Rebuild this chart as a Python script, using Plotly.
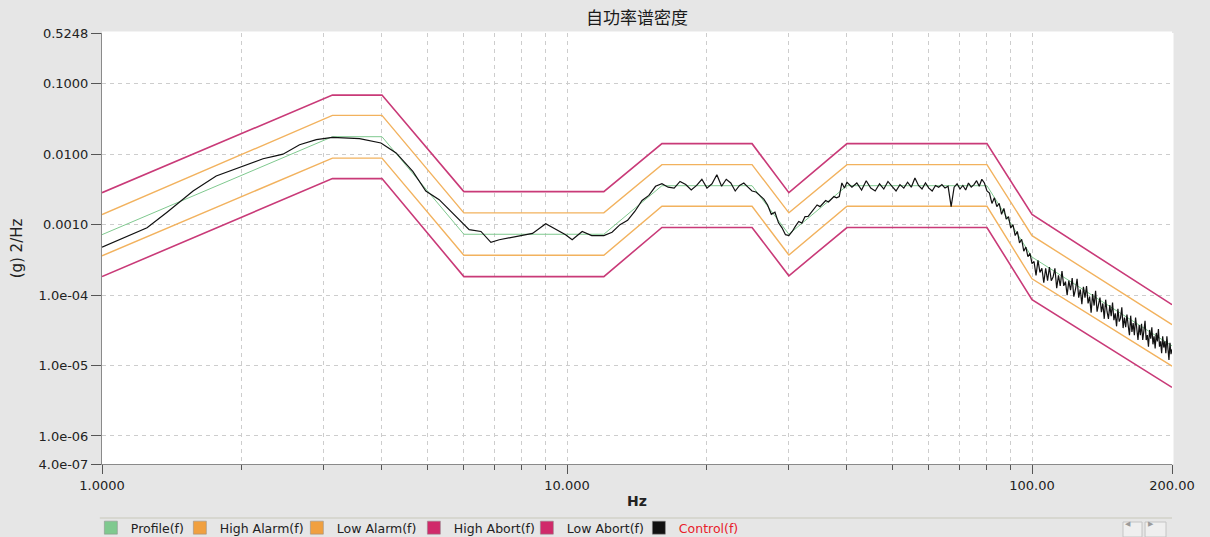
import plotly.graph_objects as go

# ---------------- data ----------------
limit_freq = [1, 3.13, 4, 6, 12, 16, 25, 30, 40, 80, 100, 200]
profile    = [7.2e-4, 1.77e-2, 1.77e-2, 7.3e-4, 7.3e-4, 3.57e-3, 3.57e-3, 7.3e-4, 3.57e-3, 3.57e-3, 3.46e-4, 1.9e-5]
high_alarm = [1.39e-3, 3.55e-2, 3.55e-2, 1.47e-3, 1.47e-3, 7.1e-3, 7.1e-3, 1.47e-3, 7.1e-3, 7.1e-3, 6.98e-4, 3.8e-5]
low_alarm  = [3.6e-4, 8.8e-3, 8.8e-3, 3.67e-4, 3.67e-4, 1.82e-3, 1.82e-3, 3.7e-4, 1.82e-3, 1.82e-3, 1.7e-4, 9.8e-6]
high_abort = [2.84e-3, 6.9e-2, 6.9e-2, 2.94e-3, 2.94e-3, 1.41e-2, 1.41e-2, 2.84e-3, 1.41e-2, 1.41e-2, 1.39e-3, 7.3e-5]
low_abort  = [1.83e-4, 4.5e-3, 4.5e-3, 1.83e-4, 1.83e-4, 9.1e-4, 9.1e-4, 1.88e-4, 9.1e-4, 9.1e-4, 8.6e-5, 4.9e-6]

control_freq_low = [1.0, 1.25, 1.38, 1.57, 1.76, 1.98, 2.22, 2.35, 2.45, 2.66, 2.89, 3.13, 3.58,
                    3.98, 4.29, 4.66, 4.97, 5.31, 5.77, 6.16, 6.53, 6.86, 7.15, 7.76, 8.43, 9.0,
                    9.46, 9.93, 10.26, 10.78, 11.3, 11.9]
control_psd_low = [4.8e-4, 9.0e-4, 1.5e-3, 3.0e-3, 4.9e-3, 6.6e-3, 8.6e-3, 9.4e-3, 1.0e-2, 1.36e-2,
                   1.61e-2, 1.73e-2, 1.66e-2, 1.44e-2, 1.04e-2, 5.7e-3, 3.0e-3, 2.26e-3, 1.31e-3,
                   8.5e-4, 8.0e-4, 5.6e-4, 6.1e-4, 6.7e-4, 7.5e-4, 1.03e-3, 8.5e-4, 7.2e-4, 6.1e-4,
                   8.0e-4, 7.0e-4, 7.0e-4]

control_freq_mid = [12.0, 12.5, 13.0, 13.5, 14.0, 14.5, 15.0, 15.5, 16.0, 16.5,
                    17.0, 17.5, 18.0, 18.5, 19.0, 19.5, 20.0, 20.5, 21.0, 21.5,
                    22.0, 22.5, 23.0, 23.5, 24.0, 24.5, 25.0, 25.5, 26.0, 26.5,
                    27.0, 27.5, 28.0, 28.5, 29.0, 29.5, 30.0, 30.5, 31.0, 31.5,
                    32.0, 32.5, 33.0, 33.5, 34.0, 34.5, 35.0, 35.5, 36.0, 36.5,
                    37.0, 37.5, 38.0, 38.5, 39.0, 39.5, 40.0]
control_psd_mid = [7.0e-4, 7.8e-4, 1.0e-3, 1.15e-3, 1.55e-3, 2.2e-3, 2.6e-3, 3.5e-3, 3.8e-3, 3.4e-3,
                   3.3e-3, 4.1e-3, 3.7e-3, 3.1e-3, 3.6e-3, 4.4e-3, 3.3e-3, 3.8e-3, 5.1e-3, 3.5e-3,
                   4.4e-3, 3.9e-3, 3.0e-3, 3.6e-3, 3.9e-3, 3.4e-3, 3.0e-3, 2.9e-3, 2.6e-3, 2.3e-3,
                   1.9e-3, 1.4e-3, 1.5e-3, 1.06e-3, 9.0e-4, 7.2e-4, 7.0e-4, 8.0e-4, 9.5e-4, 1.11e-3,
                   1.05e-3, 1.3e-3, 1.31e-3, 1.5e-3, 1.7e-3, 1.9e-3, 1.8e-3, 2.0e-3, 2.2e-3, 2.1e-3,
                   2.3e-3, 2.5e-3, 2.4e-3, 2.5e-3, 3.9e-3, 3.3e-3, 4.0e-3]

control_freq_high = [41, 42, 43, 44, 45, 46, 47, 48, 49, 50, 51, 52, 53, 54, 55, 56, 57, 58, 59, 60,
                     61, 62, 63, 64, 65, 66, 67, 68, 69, 70, 71, 72, 73, 74, 75, 76, 77, 78, 79, 80,
                     81, 82, 83, 84, 85, 86, 87, 88, 89, 90, 91, 92, 93, 94, 95, 96, 97, 98, 99, 100,
                     101, 102, 103, 104, 105, 106, 107, 108, 109, 110, 111, 112, 113, 114, 115, 116, 117, 118, 119, 120,
                     121, 122, 123, 124, 125, 126, 127, 128, 129, 130, 131, 132, 133, 134, 135, 136, 137, 138, 139, 140,
                     141, 142, 143, 144, 145, 146, 147, 148, 149, 150, 151, 152, 153, 154, 155, 156, 157, 158, 159, 160,
                     161, 162, 163, 164, 165, 166, 167, 168, 169, 170, 171, 172, 173, 174, 175, 176, 177, 178, 179, 180,
                     181, 182, 183, 184, 185, 186, 187, 188, 189, 190, 191, 192, 193, 194, 195, 196, 197, 198, 199, 200]
control_psd_high = [
    3.4e-3, 3.9e-3, 3.1e-3, 4.2e-3, 3.3e-3, 3.0e-3, 3.8e-3, 3.2e-3, 4.1e-3, 3.5e-3,
    3.0e-3, 3.7e-3, 3.3e-3, 4.0e-3, 3.4e-3, 4.6e-3, 3.6e-3, 3.2e-3, 3.9e-3, 3.3e-3,
    3.0e-3, 3.6e-3, 3.4e-3, 3.7e-3, 3.3e-3, 3.5e-3, 1.8e-3, 3.4e-3, 3.8e-3, 3.2e-3,
    3.6e-3, 3.1e-3, 3.9e-3, 3.4e-3, 3.7e-3, 4.2e-3, 3.5e-3, 4.4e-3, 3.9e-3, 3.0e-3,
    2.8e-3, 2.0e-3, 2.4e-3, 1.8e-3, 2.0e-3, 1.4e-3, 1.7e-3, 1.2e-3, 1.3e-3, 9.0e-4,
    1.0e-3, 7.0e-4, 8.0e-4, 5.5e-4, 6.2e-4, 4.2e-4, 4.8e-4, 3.5e-4, 3.9e-4, 2.8e-4,
    3.0e-4, 1.9e-4, 3.1e-4, 2.1e-4, 2.4e-4, 1.5e-4, 2.4e-4, 1.6e-4, 2.5e-4, 1.6e-4,
    1.8e-4, 2.4e-4, 1.25e-4, 1.9e-4, 1.35e-4, 2.2e-4, 1.35e-4, 1.55e-4, 1.0e-4, 1.6e-4,
    1.17e-4, 1.74e-4, 9.5e-5, 1.2e-4, 1.7e-4, 9.2e-5, 1.2e-4, 7.4e-5, 1.31e-4, 9.2e-5,
    1.34e-4, 7.6e-5, 9.5e-5, 5.6e-5, 1.03e-4, 7.1e-5, 1.15e-4, 5.8e-5, 7.8e-5, 9.2e-5,
    5.7e-5, 7.6e-5, 4.6e-5, 8.6e-5, 5.8e-5, 4.6e-5, 7.2e-5, 5.0e-5, 7.8e-5, 4.4e-5,
    5.5e-5, 3.6e-5, 6.4e-5, 4.2e-5, 4.7e-5, 6.7e-5, 3.4e-5, 4.8e-5, 3.5e-5, 5.3e-5,
    3.7e-5, 2.7e-5, 5.1e-5, 3.0e-5, 4.0e-5, 2.7e-5, 4.8e-5, 3.2e-5, 2.3e-5, 3.75e-5,
    2.7e-5, 3.9e-5, 2.3e-5, 3.1e-5, 4.3e-5, 2.3e-5, 2.7e-5, 1.85e-5, 3.2e-5, 2.4e-5,
    3.5e-5, 2.0e-5, 2.6e-5, 1.75e-5, 2.9e-5, 2.2e-5, 3.3e-5, 1.85e-5, 2.2e-5, 1.5e-5,
    2.6e-5, 1.8e-5, 2.2e-5, 1.5e-5, 2.6e-5, 1.75e-5, 1.2e-5, 2.1e-5, 1.45e-5, 1.7e-5]

x_tick_vals = [1, 10, 100, 200]
x_tick_text = ["1.0000", "10.000", "100.00", "200.00"]
x_minor_vals = [2, 3, 4, 5, 6, 7, 8, 9, 20, 30, 40, 50, 60, 70, 80, 90]
y_tick_vals = [0.5248, 0.1, 0.01, 0.001, 1e-4, 1e-5, 1e-6, 4e-7]
y_tick_text = ["0.5248", "0.1000", "0.0100", "0.0010", "1.0e-04", "1.0e-05", "1.0e-06", "4.0e-07"]

legend_names = ["Profile(f)", "High Alarm(f)", "Low Alarm(f)", "High Abort(f)", "Low Abort(f)",
                "<span style='color:#e8202a'>Control(f)</span>"]

# ---------------- styling ----------------
C_ABORT = "#c93a78"
C_ALARM = "#f2b25e"
C_PROF = "#7fc98f"
C_CTRL = "#111111"
FONT = "DejaVu Sans"
BG = "#e6e6e6"

control_freq = control_freq_low + control_freq_mid + control_freq_high
control_psd = control_psd_low + control_psd_mid + control_psd_high

fig = go.Figure()
series = [
    (high_abort, C_ABORT, 1.6),
    (low_abort, C_ABORT, 1.6),
    (high_alarm, C_ALARM, 1.4),
    (low_alarm, C_ALARM, 1.4),
    (profile, C_PROF, 1.0),
]
for vals, col, w in series:
    fig.add_trace(go.Scatter(x=limit_freq, y=vals, mode="lines",
                             line=dict(color=col, width=w), showlegend=False,
                             hoverinfo="skip"))
fig.add_trace(go.Scatter(x=control_freq, y=control_psd, mode="lines",
                         line=dict(color=C_CTRL, width=1.2), showlegend=False))

# legend checkbox-like entries
legend_cols = [C_PROF, "#f0a040", "#f0a040", "#d02a6a", "#d02a6a", "#111111"]
legend_w = [44, 72, 72, 68, 67, 60]
for name, col, lw in zip(legend_names, legend_cols, legend_w):
    fig.add_trace(go.Scatter(x=[None], y=[None], mode="markers", name=name,
                             marker=dict(symbol="square", size=13, color=col,
                                         line=dict(color="#8a8a8a", width=0.5)),
                             legendwidth=lw))

grid = dict(gridcolor="#cdcdcd", griddash="4px,4px", gridwidth=1)

fig.update_layout(
    width=1210, height=537,
    paper_bgcolor=BG, plot_bgcolor="#ffffff",
    margin=dict(l=102, r=38, t=33, b=73, autoexpand=False),
    font=dict(family=FONT, size=12, color="#222222"),
    title=dict(text="自功率谱密度", x=0.5, xref="paper", xanchor="center",
               y=1 - 18 / 537, yref="container", yanchor="middle",
               font=dict(family="Noto Sans CJK SC", size=17, color="#1a1a1a")),
    xaxis=dict(type="log", range=[0, 2.30103], tickmode="array",
               tickvals=x_tick_vals, ticktext=x_tick_text,
               ticks="outside", ticklen=9, tickcolor="#555555", tickwidth=1,
               showline=True, linecolor="#8a8a8a", linewidth=1,
               showgrid=True, **grid, zeroline=False,
               tickfont=dict(family=FONT, size=13, color="#222222"),
               minor=dict(tickmode="array", tickvals=x_minor_vals, ticks="outside",
                          ticklen=5, tickcolor="#555555", showgrid=True, **grid),
               title=dict(text="<b>Hz</b>", standoff=4,
                          font=dict(family=FONT, size=14, color="#222222"))),
    yaxis=dict(type="log", range=[-6.39794, -0.28], tickmode="array",
               tickvals=y_tick_vals, ticktext=y_tick_text,
               ticks="outside", ticklen=10, tickcolor="#555555", tickwidth=1,
               showline=True, linecolor="#8a8a8a", linewidth=1,
               showgrid=True, **grid, zeroline=False,
               tickfont=dict(family=FONT, size=13, color="#222222"),
               title=dict(text="(g) 2/Hz", standoff=12,
                          font=dict(family=FONT, size=15, color="#222222"))),
    legend=dict(orientation="h", x=-0.0104, xanchor="left", y=-0.1485, yanchor="middle",
                bgcolor="rgba(0,0,0,0)", font=dict(family=FONT, size=12.5, color="#222222"),
                itemwidth=30, tracegroupgap=0, traceorder="normal"),
    shapes=[
        # hide the grid lines that fall on the open top / right edges of the plot
        dict(type="line", xref="paper", yref="paper", x0=0, x1=1, y0=1, y1=1,
             layer="between", line=dict(color="#ffffff", width=3)),
        dict(type="line", xref="paper", yref="paper", x0=1, x1=1, y0=0, y1=1,
             layer="between", line=dict(color="#ffffff", width=3)),
        dict(type="line", xref="paper", yref="paper", x0=-0.002, x1=1.0,
             y0=-0.1253, y1=-0.1253, line=dict(color="#d2d2c8", width=1.5)),
        dict(type="rect", xref="paper", yref="paper", x0=0.9542, x1=0.972,
             y0=-0.1694, y1=-0.1346, fillcolor="#efefef", line=dict(color="#c4c4c4", width=1)),
        dict(type="rect", xref="paper", yref="paper", x0=0.9748, x1=0.9944,
             y0=-0.1694, y1=-0.1346, fillcolor="#efefef", line=dict(color="#c4c4c4", width=1)),
    ],
    annotations=[
        dict(text="◀", xref="paper", yref="paper", x=0.9631, y=-0.152, showarrow=False,
             font=dict(size=7, color="#9a9a9a")),
        dict(text="▶", xref="paper", yref="paper", x=0.9846, y=-0.152, showarrow=False,
             font=dict(size=7, color="#9a9a9a")),
    ],
    hovermode=False,
)

fig.write_html(
    "out.html",
    config={"displayModeBar": False},
    post_script="document.body.style.margin='0';document.body.style.background='%s';" % BG,
)
